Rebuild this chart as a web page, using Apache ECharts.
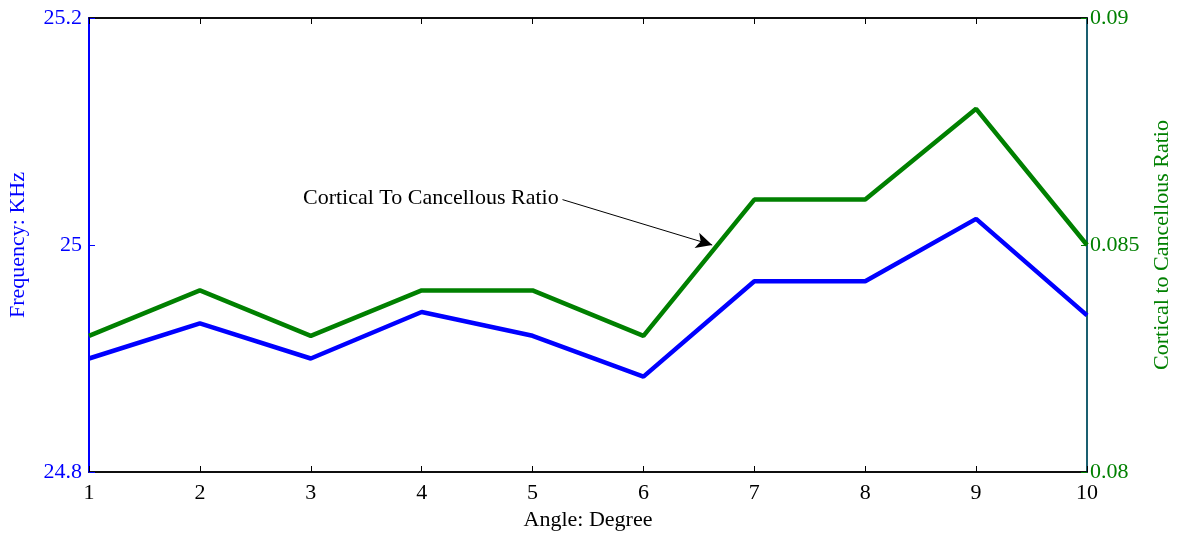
<!doctype html>
<html>
<head>
  <meta charset="utf-8">
  <title>Frequency and Cortical To Cancellous Ratio</title>
  <script src="https://cdn.jsdelivr.net/npm/echarts@6/dist/echarts.min.js"></script>
  <style>
    html, body { margin: 0; padding: 0; background: #fff; }
    #chart { width: 1178px; height: 533px; }
  </style>
</head>
<body>
  <div id="chart"></div>
  <script>
    const angles = [1, 2, 3, 4, 5, 6, 7, 8, 9, 10];
    const frequency = [24.900, 24.931, 24.900, 24.941, 24.920, 24.884, 24.968, 24.968, 25.023, 24.938];
    const ratio = [0.083, 0.084, 0.083, 0.084, 0.084, 0.083, 0.086, 0.086, 0.088, 0.085];
    // annotation arrow, in data units (angle, ratio)
    const arrowFrom = [5.27, 0.0860];
    const arrowTo = [6.62, 0.0850];
    const arrowText = 'Cortical To Cancellous Ratio';

    const font = 'Liberation Serif';
    const chart = echarts.init(document.getElementById('chart'));
    const pair = (xs, ys) => xs.map((x, i) => [x, ys[i]]);

    chart.setOption({
      animation: false,
      textStyle: { fontFamily: font },
      grid: {
        left: 89, right: 91, top: 18, bottom: 61,
        outerBoundsMode: 'none',
        show: true, borderColor: '#000', borderWidth: 1.5, backgroundColor: '#fff'
      },
      xAxis: [{
        type: 'value', min: 1, max: 10, interval: 1, position: 'bottom',
        name: 'Angle: Degree', nameLocation: 'middle', nameGap: 36,
        nameTextStyle: { color: '#000', fontSize: 22, fontFamily: font },
        axisLine: { show: true, lineStyle: { color: '#000', width: 1.5 } },
        axisTick: { show: true, inside: true, length: 6, lineStyle: { color: '#000' } },
        axisLabel: { color: '#000', fontSize: 22, fontFamily: font, margin: 10 },
        splitLine: { show: false }
      }, {
        type: 'value', min: 1, max: 10, interval: 1, position: 'top',
        axisLine: { show: true, lineStyle: { color: '#000', width: 1.5 } },
        axisTick: { show: true, inside: true, length: 6, lineStyle: { color: '#000' } },
        axisLabel: { show: false },
        splitLine: { show: false }
      }],
      yAxis: [{
        type: 'value', min: 24.8, max: 25.2, interval: 0.2, position: 'left',
        name: 'Frequency: KHz', nameLocation: 'middle', nameGap: 60,
        nameTextStyle: { color: '#0000ff', fontSize: 22, fontFamily: font },
        axisLine: { show: true, lineStyle: { color: '#0000ff', width: 2 } },
        axisTick: { show: true, inside: true, length: 6, lineStyle: { color: '#0000ff' } },
        axisLabel: { color: '#0000ff', fontSize: 22, fontFamily: font, margin: 7,
          formatter: v => String(Math.round(v * 10) / 10) },
        splitLine: { show: false }
      }, {
        type: 'value', min: 0.08, max: 0.09, interval: 0.005, position: 'right',
        name: 'Cortical to Cancellous Ratio', nameLocation: 'middle', nameGap: 64,
        nameRotate: 90,
        nameTextStyle: { color: '#008000', fontSize: 22, fontFamily: font },
        axisLine: { show: true, lineStyle: { color: '#1a5f70', width: 2 } },
        axisTick: { show: true, inside: true, length: 6, lineStyle: { color: '#008000' } },
        axisLabel: { color: '#008000', fontSize: 22, fontFamily: font, margin: 3,
          formatter: v => String(Math.round(v * 1000) / 1000) },
        splitLine: { show: false }
      }],
      series: [{
        name: 'Frequency', type: 'line', xAxisIndex: 0, yAxisIndex: 0,
        data: pair(angles, frequency),
        symbol: 'none', lineStyle: { color: '#0000ff', width: 4.5 }
      }, {
        name: 'Ratio', type: 'line', xAxisIndex: 0, yAxisIndex: 1,
        data: pair(angles, ratio),
        symbol: 'none', lineStyle: { color: '#008000', width: 4.5 },
        markLine: {
          silent: true,
          symbol: ['none', 'arrow'],
          symbolSize: [12, 16],
          lineStyle: { color: '#000', width: 1, type: 'solid' },
          label: {
            show: true, position: 'start', formatter: arrowText,
            color: '#000', fontSize: 22, fontFamily: font, distance: 4
          },
          data: [[{ coord: arrowFrom }, { coord: arrowTo }]]
        }
      }]
    });
  </script>
</body>
</html>
